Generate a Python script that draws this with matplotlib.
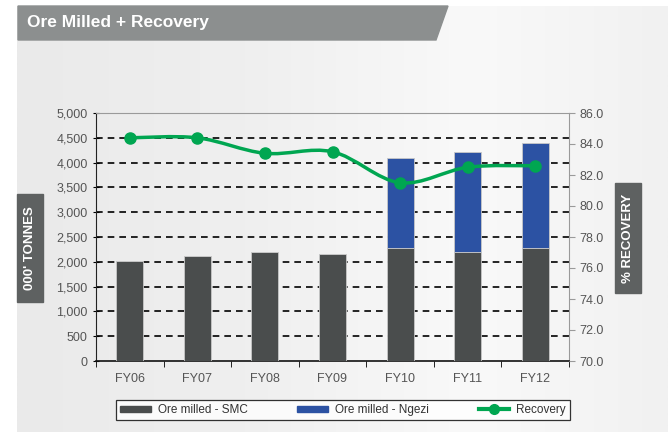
import numpy as np
import matplotlib
matplotlib.use("Agg")
import matplotlib.pyplot as plt
from matplotlib.patches import Polygon, Rectangle
from matplotlib.path import Path
from matplotlib.patches import PathPatch
from matplotlib.lines import Line2D

# --- datos ---
years = ["FY06", "FY07", "FY08", "FY09", "FY10", "FY11", "FY12"]
smc = [2020, 2120, 2200, 2150, 2270, 2190, 2270]
ngezi = [0, 0, 0, 0, 1830, 2030, 2120]
recovery = [84.4, 84.4, 83.4, 83.5, 81.5, 82.5, 82.6]

left_ticks = [0, 500, 1000, 1500, 2000, 2500, 3000, 3500, 4000, 4500, 5000]
right_ticks = [70.0, 72.0, 74.0, 76.0, 78.0, 80.0, 82.0, 84.0, 86.0]

plt.rcParams['font.family'] = ['Liberation Sans Narrow', 'Liberation Sans', 'DejaVu Sans']

W, H = 668, 432
fig = plt.figure(figsize=(W / 100, H / 100), dpi=100)

# fondo degradado
bg = fig.add_axes([0, 0, 1, 1])
grad = np.linspace(0, 1, 256)[None, :]
cmap = matplotlib.colors.LinearSegmentedColormap.from_list(
    "g", [(0, "#eaeaea"), (0.35, "#efefef"), (0.7, "#f9f9f9"), (1, "#f1f1f1")])
bg.imshow(grad, aspect='auto', cmap=cmap, extent=[17, W, 0, H - 6])
bg.add_patch(Polygon([(18, H - 6), (448, H - 6), (436, H - 40), (18, H - 40)],
                     closed=True, color="#8c8f8f"))
bg.text(27, H - 23, "Ore Milled + Recovery", color="white", fontsize=12.5,
        fontweight="bold", va="center", ha="left")
# cajas de etiquetas de ejes
bg.add_patch(Rectangle((17, H - 302), 26, 108, color="#5e6161"))
bg.text(30, H - 248, "000' TONNES", color="white", rotation=90, fontsize=9.5,
        fontweight="bold", ha="center", va="center")
bg.add_patch(Rectangle((615, H - 293), 26, 110, color="#5e6161"))
bg.text(628, H - 238, "% RECOVERY", color="white", rotation=90, fontsize=9.5,
        fontweight="bold", ha="center", va="center")
bg.set_xlim(0, W)
bg.set_ylim(0, H)
bg.axis("off")

# --- gráfico principal ---
x0, x1, y0, y1 = 96, 569, 113, 361
ax = fig.add_axes([x0 / W, 1 - y1 / H, (x1 - x0) / W, (y1 - y0) / H])
ax.patch.set_alpha(0)
x = np.arange(len(years))
bw = 0.4
ax.bar(x, smc, bw, color="#4a4d4d", edgecolor="#c8c8c8", linewidth=0.6, zorder=3,
       label="Ore milled - SMC")
ax.bar(x, ngezi, bw, bottom=smc, color="#2c52a3", edgecolor="#c8c8c8", linewidth=0.6,
       zorder=3, label="Ore milled - Ngezi")
ax.set_xlim(-0.5, len(years) - 0.5)
ax.set_ylim(0, 5000)
ax.set_yticks(left_ticks)
ax.set_yticklabels([f"{v:,}" for v in left_ticks])
for v in left_ticks[1:-1]:
    ax.axhline(v, color="black", lw=1.2, ls=(0, (4, 3)), zorder=2)
ax.set_xticks(x)
ax.set_xticklabels(years)
ax.set_xticks(np.arange(-0.5, len(years)), minor=True)
ax.tick_params(axis="x", which="major", length=0, pad=9, labelsize=9, colors="#555555")
ax.tick_params(axis="x", which="minor", length=4, color="black", direction="out")
ax.tick_params(axis="y", length=5, direction="inout", labelsize=9, colors="#555555")
ax.tick_params(axis="y", color="black")
ax.spines["left"].set_color("#222222")
ax.spines["bottom"].set_color("#111111")
ax.spines["bottom"].set_linewidth(1.2)
ax.spines["top"].set_color("#9a9a9a")
ax.spines["right"].set_color("#9a9a9a")

ax2 = ax.twinx()
ax2.set_ylim(70, 86)
ax2.set_yticks(right_ticks)
ax2.set_yticklabels([f"{v:.1f}" for v in right_ticks])
ax2.tick_params(axis="y", length=4, labelsize=9, colors="#555555", color="#9a9a9a")
for s in ax2.spines.values():
    s.set_visible(False)

# línea suavizada (Bezier tipo Excel) por los puntos de datos
pts = np.column_stack([x, recovery]).astype(float)
verts = [tuple(pts[0])]
codes = [Path.MOVETO]
t = 1 / 6
for i in range(len(pts) - 1):
    p0 = pts[max(i - 1, 0)]
    p1 = pts[i]
    p2 = pts[i + 1]
    p3 = pts[min(i + 2, len(pts) - 1)]
    c1 = p1 + (p2 - p0) * t
    c2 = p2 - (p3 - p1) * t
    verts += [tuple(c1), tuple(c2), tuple(p2)]
    codes += [Path.CURVE4] * 3
ax2.add_patch(PathPatch(Path(verts, codes), fill=False, edgecolor="#00a651", lw=2.5,
                        zorder=4))
ax2.plot(x, recovery, "o", color="#00a651", ms=8, zorder=5)

handles = [
    Rectangle((0, 0), 1, 1, color="#4a4d4d"),
    Rectangle((0, 0), 1, 1, color="#2c52a3"),
    Line2D([], [], color="#00a651", lw=3, marker="o", ms=7),
]
labels = ["Ore milled - SMC", "Ore milled - Ngezi", "Recovery"]
leg = fig.legend(handles, labels, ncol=3, loc="center",
                 bbox_to_anchor=((114 + 572) / 2 / W, 1 - 410 / H),
                 frameon=True, fancybox=False, edgecolor="black", fontsize=8.5,
                 handlelength=2.6, handleheight=0.35, columnspacing=4.2,
                 handletextpad=0.6, borderpad=0.35, labelcolor="#333333")
leg.get_frame().set_linewidth(0.9)

fig.savefig("out.png", dpi=100)
